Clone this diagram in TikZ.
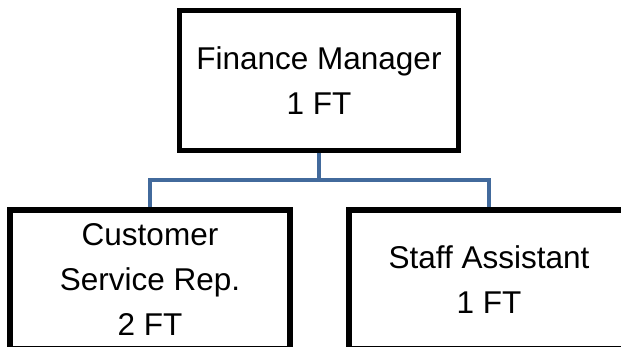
\documentclass[tikz,border=0pt]{standalone}
\usepackage{fontspec}
\setmainfont{Liberation Sans}

\definecolor{linkblue}{RGB}{66,106,156}

\begin{document}
\begin{tikzpicture}[
            x=1pt, y=-1pt,
            box node/.style={rectangle,draw,line width=5.5pt,align=center,inner sep=0pt,
                font=\fontsize{31.5}{45}\selectfont,minimum width=280pt,minimum height=139pt},
            link/.style={draw,line width=4.5pt,linkblue},
        ]
            \useasboundingbox (0,0) rectangle (621,347);
            \clip (0,0) rectangle (621,347);

            \node[box node,minimum width=279pt,minimum height=140pt] (fm) at (319,80.5) {Finance Manager\\1 FT};
            \node[box node] (csr) at (150,279.5) {Customer\\Service Rep.\\2 FT};
            \node[box node] (sa) at (489,279.5) {Staff Assistant\\1 FT};

            \path[link] (fm.south) -- ++(0,27) coordinate (split);
            \path[link] (split) -| (csr.north);
            \path[link] (split) -| (sa.north);
        \end{tikzpicture}
\end{document}
